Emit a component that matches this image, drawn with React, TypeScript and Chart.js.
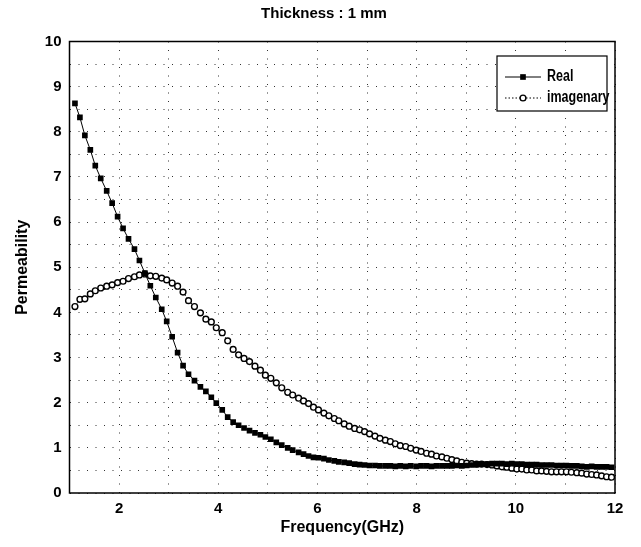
import React, { useEffect, useRef } from "react";
import { Chart, registerables } from "chart.js";

Chart.register(...registerables);

const chartTitle = "Thickness : 1 mm";
const xAxisTitle = "Frequency(GHz)";
const yAxisTitle = "Permeability";
const seriesNames = ["Real", "imagenary"];

const frequency = [
  1.11, 1.21, 1.31, 1.42, 1.52, 1.63, 1.75, 1.86, 1.97, 2.08,
  2.19, 2.31, 2.41, 2.52, 2.63, 2.74, 2.86, 2.96, 3.07, 3.18,
  3.29, 3.40, 3.52, 3.64, 3.75, 3.86, 3.96, 4.08, 4.19, 4.30,
  4.41, 4.52, 4.63, 4.74, 4.85, 4.95, 5.06, 5.17, 5.28, 5.40,
  5.50, 5.62, 5.72, 5.82, 5.92, 6.02, 6.13, 6.23, 6.34, 6.43,
  6.54, 6.64, 6.75, 6.85, 6.95, 7.05, 7.16, 7.26, 7.37, 7.47,
  7.57, 7.67, 7.78, 7.88, 7.99, 8.09, 8.20, 8.30, 8.40, 8.51,
  8.61, 8.71, 8.81, 8.91, 9.01, 9.11, 9.21, 9.31, 9.42, 9.52,
  9.62, 9.72, 9.82, 9.92, 10.02, 10.12, 10.22, 10.32, 10.42, 10.52,
  10.62, 10.72, 10.82, 10.92, 11.02, 11.12, 11.23, 11.33, 11.43, 11.53,
  11.63, 11.73, 11.83, 11.93,
];

const realValues = [
  8.63, 8.32, 7.92, 7.60, 7.25, 6.97, 6.69, 6.42, 6.12, 5.86,
  5.63, 5.40, 5.15, 4.87, 4.59, 4.33, 4.07, 3.80, 3.46, 3.11,
  2.82, 2.63, 2.49, 2.35, 2.25, 2.12, 1.99, 1.84, 1.68, 1.57,
  1.50, 1.44, 1.38, 1.33, 1.29, 1.24, 1.19, 1.12, 1.06, 1.00,
  0.95, 0.90, 0.86, 0.82, 0.79, 0.78, 0.76, 0.73, 0.71, 0.69,
  0.68, 0.66, 0.64, 0.63, 0.62, 0.61, 0.61, 0.60, 0.60, 0.60,
  0.59, 0.60, 0.59, 0.60, 0.59, 0.60, 0.60, 0.59, 0.60, 0.60,
  0.60, 0.60, 0.61, 0.60, 0.61, 0.62, 0.63, 0.64, 0.64, 0.65,
  0.65, 0.65, 0.64, 0.65, 0.64, 0.64, 0.63, 0.63, 0.63, 0.62,
  0.62, 0.62, 0.61, 0.61, 0.61, 0.60, 0.60, 0.59, 0.58, 0.59,
  0.58, 0.58, 0.58, 0.57,
];

const imagValues = [
  4.13, 4.29, 4.30, 4.41, 4.48, 4.54, 4.58, 4.61, 4.66, 4.69,
  4.75, 4.79, 4.83, 4.85, 4.81, 4.80, 4.76, 4.72, 4.65, 4.58,
  4.45, 4.26, 4.13, 3.99, 3.85, 3.79, 3.66, 3.55, 3.37, 3.18,
  3.06, 2.98, 2.91, 2.81, 2.72, 2.61, 2.54, 2.44, 2.33, 2.23,
  2.17, 2.10, 2.04, 1.98, 1.90, 1.84, 1.77, 1.71, 1.65, 1.60,
  1.53, 1.48, 1.43, 1.40, 1.36, 1.31, 1.26, 1.21, 1.17, 1.14,
  1.09, 1.05, 1.03, 0.99, 0.95, 0.92, 0.88, 0.86, 0.82, 0.80,
  0.77, 0.74, 0.71, 0.68, 0.66, 0.65, 0.64, 0.64, 0.63, 0.62,
  0.60, 0.58, 0.57, 0.55, 0.53, 0.53, 0.51, 0.51, 0.49, 0.49,
  0.48, 0.47, 0.47, 0.47, 0.47, 0.46, 0.45, 0.44, 0.42, 0.41,
  0.40, 0.38, 0.36, 0.35,
];

const xRange = [1, 12];
const yRange = [0, 10];

const FONT = '"Liberation Sans", Arial, sans-serif';
const tickFont = { family: FONT, size: 15, weight: "bold" as const };
const axisTitleFont = { family: FONT, size: 16, weight: "bold" as const };

const plotBoxPlugin = {
  id: "plotBox",
  afterDraw(chart: any) {
    const { ctx, chartArea: a } = chart;
    ctx.save();
    ctx.strokeStyle = "#000";
    ctx.lineWidth = 1.5;
    ctx.strokeRect(a.left, a.top, a.right - a.left, a.bottom - a.top);
    ctx.restore();
  },
};

const topTitlePlugin = {
  id: "topTitle",
  afterDraw(chart: any) {
    const { ctx } = chart;
    ctx.save();
    ctx.fillStyle = "#000";
    ctx.font = `bold 15px ${FONT}`;
    ctx.textAlign = "center";
    ctx.textBaseline = "middle";
    ctx.fillText(chartTitle, 324, 13.5);
    ctx.restore();
  },
};

const insetLegendPlugin = {
  id: "insetLegend",
  afterDraw(chart: any) {
    const { ctx, chartArea: a } = chart;
    const w = 110;
    const h = 55;
    const left = a.right - 118;
    const top = a.top + 14.5;
    ctx.save();
    ctx.fillStyle = "#fff";
    ctx.fillRect(left, top, w, h);
    ctx.strokeStyle = "#000";
    ctx.lineWidth = 1.2;
    ctx.strokeRect(left, top, w, h);
    chart.data.datasets.forEach((ds: any, i: number) => {
      const y = top + 21 + i * 21;
      ctx.beginPath();
      ctx.setLineDash(ds.borderDash || []);
      ctx.lineWidth = ds.borderWidth;
      ctx.strokeStyle = ds.borderColor;
      ctx.moveTo(left + 8, y);
      ctx.lineTo(left + 44, y);
      ctx.stroke();
      ctx.setLineDash([]);
      const cx = left + 26;
      if (ds.pointStyle === "rect") {
        const s = ds.pointRadius * Math.SQRT1_2;
        ctx.fillStyle = ds.pointBackgroundColor;
        ctx.fillRect(cx - s, y - s, 2 * s, 2 * s);
      } else {
        ctx.beginPath();
        ctx.arc(cx, y, ds.pointRadius, 0, Math.PI * 2);
        ctx.fillStyle = ds.pointBackgroundColor;
        ctx.fill();
        ctx.lineWidth = ds.pointBorderWidth;
        ctx.strokeStyle = ds.pointBorderColor;
        ctx.stroke();
      }
      ctx.save();
      ctx.translate(left + 50, y);
      ctx.scale(0.78, 1);
      ctx.fillStyle = "#000";
      ctx.font = `bold 16px ${FONT}`;
      ctx.textBaseline = "middle";
      ctx.textAlign = "left";
      ctx.fillText(ds.label, 0, 0);
      ctx.restore();
    });
    ctx.restore();
  },
};

export default function App() {
  const canvasRef = useRef<HTMLCanvasElement | null>(null);

  useEffect(() => {
    document.body.style.margin = "0";
    const canvas = canvasRef.current;
    if (!canvas) return;
    const chart = new Chart(canvas, {
      type: "line",
      data: {
        datasets: [
          {
            label: seriesNames[0],
            data: frequency.map((x, i) => ({ x, y: realValues[i] })),
            borderColor: "#000",
            borderWidth: 1,
            pointStyle: "rect",
            pointRadius: 4,
            pointBackgroundColor: "#000",
            pointBorderColor: "#000",
            pointBorderWidth: 0,
            fill: false,
            tension: 0,
          },
          {
            label: seriesNames[1],
            data: frequency.map((x, i) => ({ x, y: imagValues[i] })),
            borderColor: "#000",
            borderWidth: 1,
            borderDash: [1.5, 2],
            pointStyle: "circle",
            pointRadius: 2.9,
            pointBackgroundColor: "#fff",
            pointBorderColor: "#000",
            pointBorderWidth: 1.4,
            fill: false,
            tension: 0,
          },
        ],
      },
      options: {
        responsive: false,
        animation: false,
        devicePixelRatio: 1,
        layout: { padding: { left: 0, right: 26, top: 41.5, bottom: 0 } },
        plugins: {
          legend: { display: false },
          tooltip: { enabled: false },
          title: { display: false },
        },
        scales: {
          x: {
            type: "linear",
            min: xRange[0],
            max: xRange[1],
            ticks: {
              stepSize: 1,
              autoSkip: false,
              maxRotation: 0,
              color: "#000",
              font: tickFont,
              padding: 7,
              callback: (v: any) => (Number(v) % 2 === 0 ? String(v) : ""),
            },
            grid: { color: "#333", lineWidth: 1, drawTicks: false },
            border: { display: false, dash: [1, 7.5] },
            title: {
              display: true,
              text: xAxisTitle,
              color: "#000",
              font: axisTitleFont,
              padding: { top: 0, bottom: 10 },
            },
            afterFit: (s: any) => {
              s.height = 54;
            },
          },
          y: {
            type: "linear",
            min: yRange[0],
            max: yRange[1],
            ticks: {
              stepSize: 0.5,
              autoSkip: false,
              color: "#000",
              font: tickFont,
              padding: 8,
              callback: (v: any) => (Number.isInteger(Number(v)) ? String(v) : ""),
            },
            grid: { color: "#333", lineWidth: 1, drawTicks: false },
            border: { display: false, dash: [1, 7.5] },
            title: {
              display: true,
              text: yAxisTitle,
              color: "#000",
              font: axisTitleFont,
              padding: { top: 13, bottom: 0 },
            },
            afterFit: (s: any) => {
              s.width = 69.5;
            },
          },
        },
      },
      plugins: [plotBoxPlugin, insetLegendPlugin, topTitlePlugin],
    });
    return () => chart.destroy();
  }, []);

  return (
    <div style={{ width: 641, height: 547 }}>
      <canvas ref={canvasRef} width={641} height={547} style={{ display: "block" }} />
    </div>
  );
}
